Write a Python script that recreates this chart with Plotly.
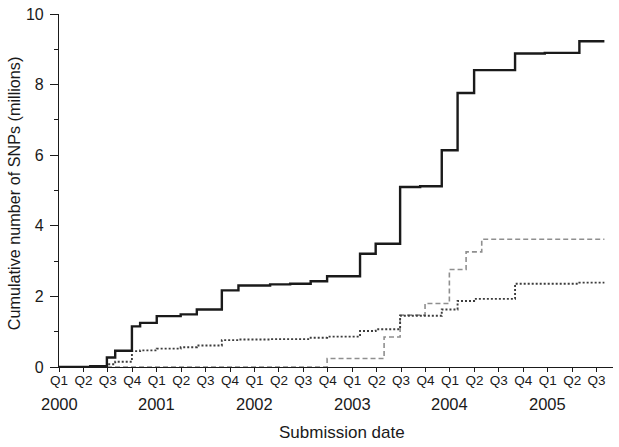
import plotly.graph_objects as go

# --- data (x in fractional years, y in millions) ---
all_x = [2000.0, 2000.32, 2000.49, 2000.575, 2000.746, 2000.83, 2001.0, 2001.245, 2001.41,
         2001.666, 2001.836, 2002.16, 2002.365, 2002.575, 2002.743, 2003.08, 2003.24, 2003.49,
         2003.695, 2003.916, 2004.078, 2004.247, 2004.666, 2004.97, 2005.324, 2005.58]
all_y = [0.0, 0.02, 0.27, 0.46, 1.15, 1.25, 1.44, 1.49, 1.63,
         2.17, 2.31, 2.34, 2.36, 2.43, 2.57, 3.21, 3.49, 5.10,
         5.12, 6.14, 7.76, 8.41, 8.88, 8.90, 9.23, 9.23]

dot_x = [2000.0, 2000.49, 2000.575, 2000.746, 2000.83, 2001.0, 2001.245, 2001.41, 2001.666,
         2001.836, 2002.16, 2002.575, 2002.743, 2003.08, 2003.24, 2003.49, 2003.916, 2004.078,
         2004.247, 2004.666, 2005.324, 2005.58]
dot_y = [0.0, 0.08, 0.15, 0.45, 0.47, 0.52, 0.56, 0.61, 0.76,
         0.78, 0.79, 0.83, 0.86, 1.02, 1.07, 1.45, 1.63, 1.87,
         1.93, 2.36, 2.39, 2.39]

dash_x = [2000.0, 2002.743, 2003.326, 2003.49, 2003.745, 2003.994, 2004.165, 2004.325, 2005.58]
dash_y = [0.0, 0.24, 0.85, 1.47, 1.80, 2.76, 3.26, 3.62, 3.62]

quarter_vals = [2000 + 0.25 * i for i in range(23)]
quarter_text = ["Q1", "Q2", "Q3", "Q4"] * 5 + ["Q1", "Q2", "Q3"]
years = [2000, 2001, 2002, 2003, 2004, 2005]
y_ticks = [0, 2, 4, 6, 8, 10]

FONT = "Liberation Sans, Arial, Helvetica, sans-serif"
TXT = "#1a1a1a"

fig = go.Figure()
fig.add_trace(go.Scatter(x=dash_x, y=dash_y, mode="lines", line_shape="hv",
                         line=dict(color="#8f8f8f", width=1.6, dash="5px,3px"), showlegend=False))
fig.add_trace(go.Scatter(x=dot_x, y=dot_y, mode="lines", line_shape="hv",
                         line=dict(color="#3c3c3c", width=1.9, dash="2px,2px"), showlegend=False))
fig.add_trace(go.Scatter(x=all_x, y=all_y, mode="lines", line_shape="hv",
                         line=dict(color="#1a1a1a", width=2.4), showlegend=False))

annotations = []
for yr in years:
    annotations.append(dict(x=yr, y=-0.104, xref="x", yref="paper", text=str(yr),
                            showarrow=False, xanchor="center", yanchor="middle",
                            font=dict(family=FONT, size=16.5, color=TXT)))
annotations.append(dict(x=0.51, y=-0.185, xref="paper", yref="paper", text="Submission date",
                        showarrow=False, xanchor="center", yanchor="middle",
                        font=dict(family=FONT, size=17, color=TXT)))
annotations.append(dict(x=-0.081, y=0.49, xref="paper", yref="paper",
                        text="Cumulative number of SNPs (millions)", textangle=-90,
                        showarrow=False, xanchor="center", yanchor="middle",
                        font=dict(family=FONT, size=16.2, color=TXT)))

fig.update_layout(
    width=619, height=447,
    margin=dict(l=59, r=6, t=14, b=80, pad=0),
    paper_bgcolor="white", plot_bgcolor="white",
    font=dict(family=FONT, color=TXT),
    annotations=annotations,
    xaxis=dict(range=[2000, 2005.668], tickvals=quarter_vals, ticktext=quarter_text,
               ticks="outside", ticklen=4, tickcolor=TXT, tickwidth=1,
               showline=True, linecolor=TXT, linewidth=1.2, showgrid=False,
               zeroline=False, tickfont=dict(family=FONT, size=13.5, color=TXT),
               tickangle=0, ticklabelstandoff=-3, automargin=False),
    yaxis=dict(range=[0, 10], tickvals=y_ticks, ticks="outside", ticklen=8,
               tickcolor=TXT, tickwidth=1, showline=True, linecolor=TXT,
               linewidth=1.2, showgrid=False, zeroline=False,
               tickfont=dict(family=FONT, size=16, color=TXT),
               ticklabelstandoff=3, automargin=False,
               minor=dict(tickvals=[1, 3, 5, 7, 9], ticks="outside", ticklen=4,
                          tickcolor=TXT, showgrid=False)),
)

# remove the browser's default 8px body margin so the figure sits at the page origin
fig.write_html("out.html", config={"displayModeBar": False},
               post_script="document.body.style.margin='0';")
